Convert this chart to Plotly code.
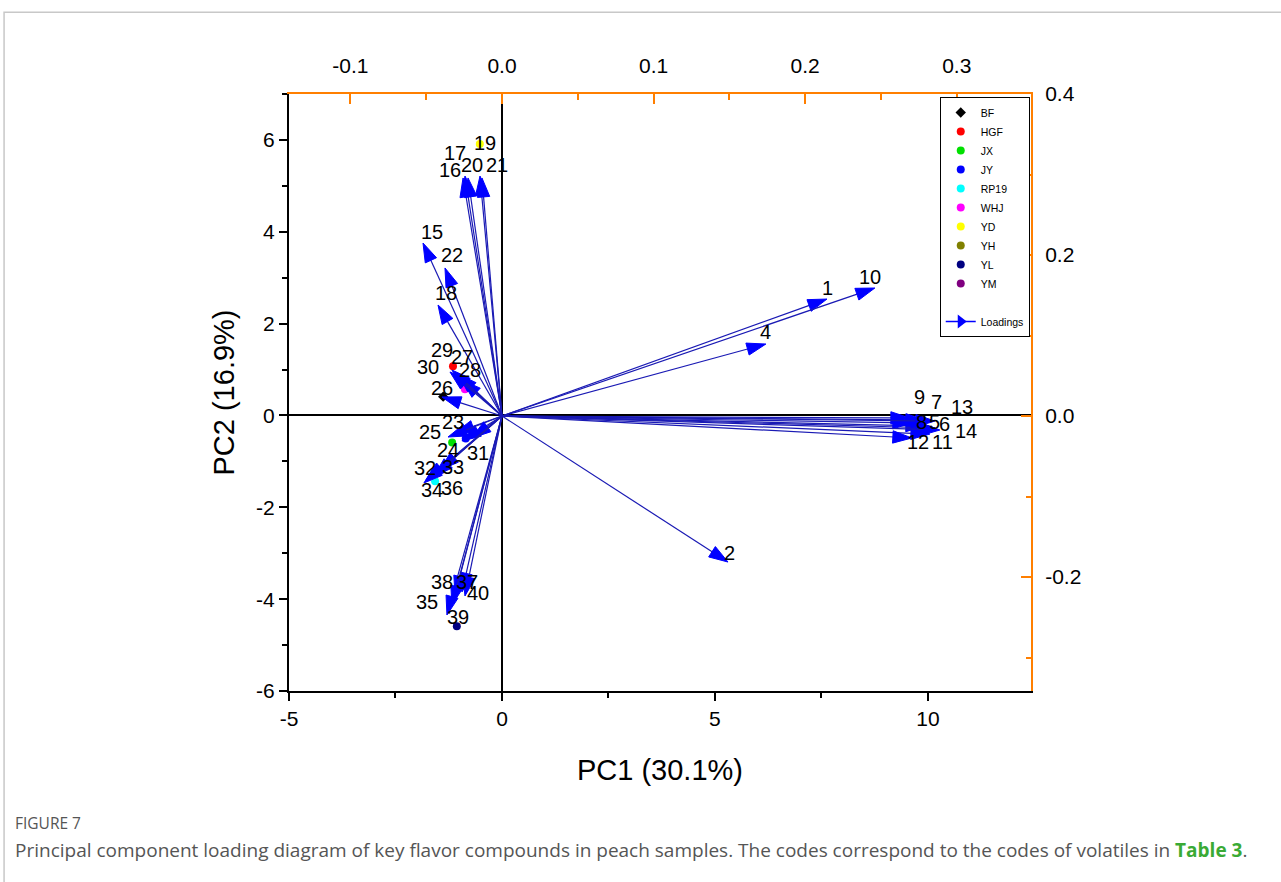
import plotly.graph_objects as go

# ---------------- data ----------------
codes = [str(i) for i in range(1, 41)]
# loading coordinates (top / right axes)
load_pc1 = [0.2144, 0.1491, 0.0, 0.1741, 0.2790, 0.2856, 0.2790, 0.2704, 0.2691, 0.2460,
            0.2823, 0.2704, 0.2856, 0.2889, -0.0521, -0.0257, -0.0244, -0.0422, -0.0145, -0.0224,
            -0.0132, -0.0376, -0.0310, -0.0264, -0.0356, -0.0396, -0.0290, -0.0264, -0.0330, -0.0343,
            -0.0198, -0.0501, -0.0409, -0.0515, -0.0363, -0.0449, -0.0264, -0.0310, -0.0330, -0.0244]
load_pc2 = [0.1453, -0.1814, 0.0, 0.0894, -0.0124, -0.0149, -0.0050, -0.0087, -0.0025, 0.1590,
            -0.0224, -0.0273, -0.0062, -0.0174, 0.2149, 0.2957, 0.2981, 0.1379, 0.2981, 0.2957,
            0.2957, 0.1839, -0.0211, -0.0310, -0.0261, 0.0236, 0.0522, 0.0447, 0.0571, 0.0547,
            -0.0273, -0.0795, -0.0671, -0.0832, -0.2472, -0.0745, -0.2186, -0.2224, -0.2348, -0.2236]
# code 3 is not visible in the chart
shown_codes = [c for c in codes if c != "3"]

samples = ["BF", "HGF", "JX", "JY", "RP19", "WHJ", "YD", "YH", "YL", "YM"]
sample_pc1 = [-1.38, -1.15, -1.17, -0.85, -1.57, -0.87, -0.52, -1.50, -1.06, -0.95]
sample_pc2 = [0.41, 1.07, -0.59, -0.50, -1.43, 0.57, 5.91, -1.25, -4.59, 0.80]

x_ticks = [-5, 0, 5, 10]
x_ticktext = ["-5", "0", "5", "10"]
y_ticks = [-6, -4, -2, 0, 2, 4, 6]
y_ticktext = ["-6", "-4", "-2", "0", "2", "4", "6"]
x2_ticks = [-0.1, 0.0, 0.1, 0.2, 0.3]
x2_ticktext = ["-0.1", "0.0", "0.1", "0.2", "0.3"]
y2_ticks = [-0.2, 0.0, 0.2, 0.4]
y2_ticktext = ["-0.2", "0.0", "0.2", "0.4"]

# ---------------- styles ----------------
sample_colors = ["#000000", "#FF0000", "#00E000", "#0000FF", "#00FFFF",
                 "#FF00FF", "#FFFF00", "#808000", "#000080", "#800080"]
sample_symbols = ["diamond"] + ["circle"] * 9
# label offsets (px right, px down) relative to the arrow tip
label_offset = {
    "1": (1, -11), "2": (2, -9), "4": (0, -12), "5": (10, -4), "6": (10, -4),
    "7": (12, -18), "8": (10, -1), "9": (10, -21), "10": (-5, -11), "11": (13, 8),
    "12": (6, 4), "13": (27, -14), "14": (26, 1), "15": (9, -11), "16": (-13, -8),
    "17": (-10, -23), "18": (8, -12), "19": (5, -33), "20": (4, -13), "21": (15, -13),
    "22": (7, -13), "23": (-2, -11), "24": (-14, 9), "25": (-18, -5), "26": (0, -9),
    "27": (4, -17), "28": (8, -10), "29": (-10, -20), "30": (-22, -5), "31": (6, 15),
    "32": (-1, -12), "33": (13, -3), "34": (8, 7), "35": (-20, -13), "36": (18, 12),
    "37": (5, -10), "38": (-13, -13), "39": (6, 12), "40": (13, -3),
}
ORANGE = "#FF7F00"
BLUE = "#0000FF"
FONT = "Liberation Sans, Arial, sans-serif"

fig = go.Figure()

for name, px_, py_, col, sym in zip(samples, sample_pc1, sample_pc2, sample_colors, sample_symbols):
    fig.add_trace(go.Scatter(x=[px_], y=[py_], mode="markers", name=name,
                             marker=dict(color=col, size=8, symbol=sym),
                             xaxis="x", yaxis="y"))

# spacer + loadings legend entry
fig.add_trace(go.Scatter(x=[None], y=[None], mode="markers", name=" ",
                         marker=dict(color="rgba(0,0,0,0)", size=1), xaxis="x", yaxis="y"))
fig.add_trace(go.Scatter(x=[None], y=[None], mode="lines+markers", name="Loadings",
                         line=dict(color=BLUE, width=1.5),
                         marker=dict(symbol="triangle-right", size=12, color=BLUE),
                         xaxis="x", yaxis="y"))

annotations = []
for c, lx, ly in zip(codes, load_pc1, load_pc2):
    if c not in shown_codes:
        continue
    fig.add_trace(go.Scatter(x=[0, lx], y=[0, ly], mode="lines+markers",
                             line=dict(color="#1A1AB4", width=1.2),
                             marker=dict(symbol="arrow", size=[0, 20], color=BLUE, opacity=1,
                                         angleref="previous", line=dict(width=1, color=BLUE)),
                             xaxis="x2", yaxis="y2", showlegend=False, hoverinfo="skip"))
    dx, dy = label_offset[c]
    annotations.append(dict(x=lx, y=ly, xref="x2", yref="y2", text=c, showarrow=False,
                            xshift=dx, yshift=-dy,
                            font=dict(family=FONT, size=20, color="black")))

# caption
annotations.append(dict(x=-0.372, y=-0.221, xref="paper", yref="paper", xanchor="left",
                        yanchor="middle", showarrow=False, text="FIGURE 7",
                        font=dict(family="Open Sans, sans-serif", size=15.5, color="#555555")))
annotations.append(dict(x=-0.372, y=-0.266, xref="paper", yref="paper", xanchor="left",
                        yanchor="middle", showarrow=False,
                        text=("Principal component loading diagram of key flavor compounds in peach samples. "
                              "The codes correspond to the codes of volatiles in "
                              "<b><span style='color:#3AAA35'>Table 3</span></b>."),
                        font=dict(family="Open Sans, sans-serif", size=19, color="#555555")))

shapes = [
    dict(type="path", xref="paper", yref="paper",
         path="M 1.4,1.137 L -0.384,1.137 L -0.384,-0.4",
         line=dict(color="#C8C8C8", width=1.5)),
]

tick_font = dict(family=FONT, size=21, color="black")

fig.update_layout(
    width=1281, height=882,
    margin=dict(l=289, r=250, t=94, b=191),
    paper_bgcolor="white", plot_bgcolor="white",
    font=dict(family=FONT),
    showlegend=True,
    legend=dict(x=0.877, y=0.995, xanchor="left", yanchor="top",
                bordercolor="black", borderwidth=1, bgcolor="white",
                font=dict(family=FONT, size=10.5, color="black"),
                tracegroupgap=0, itemwidth=30),
    xaxis=dict(range=[-5, 12.42], tickvals=x_ticks, ticktext=x_ticktext,
               ticks="outside", ticklen=8, tickwidth=2, tickcolor="black",
               showline=True, linecolor="black", linewidth=2, showgrid=False,
               zeroline=True, zerolinecolor="black", zerolinewidth=2,
               minor=dict(tickvals=[-2.5, 2.5, 7.5], ticks="outside", ticklen=5, tickcolor="black", tickwidth=2),
               tickfont=tick_font,
               title=dict(text="PC1 (30.1%)", font=dict(family=FONT, size=29, color="black"), standoff=30)),
    yaxis=dict(range=[-6, 7], tickvals=y_ticks, ticktext=y_ticktext,
               ticks="outside", ticklen=8, tickwidth=2, tickcolor="black",
               showline=True, linecolor="black", linewidth=2, showgrid=False,
               zeroline=True, zerolinecolor="black", zerolinewidth=2,
               minor=dict(tickvals=[-5, -3, -1, 1, 3, 5, 7], ticks="outside", ticklen=5, tickcolor="black", tickwidth=2),
               tickfont=tick_font,
               title=dict(text="PC2 (16.9%)", font=dict(family=FONT, size=29, color="black"), standoff=13)),
    xaxis2=dict(overlaying="x", side="top", anchor="y", range=[-0.1405, 0.349],
                tickvals=x2_ticks, ticktext=x2_ticktext,
                ticks="inside", ticklen=10, tickwidth=2, tickcolor=ORANGE,
                showline=True, linecolor=ORANGE, linewidth=2, showgrid=False, zeroline=False,
                minor=dict(tickvals=[-0.05, 0.05, 0.15, 0.25], ticks="inside", ticklen=6, tickcolor=ORANGE, tickwidth=2),
                tickfont=tick_font, ticklabelstandoff=11),
    yaxis2=dict(overlaying="y", side="right", anchor="x", range=[-0.3416, 0.4],
                tickvals=y2_ticks, ticktext=y2_ticktext,
                ticks="inside", ticklen=10, tickwidth=2, tickcolor=ORANGE,
                showline=True, linecolor=ORANGE, linewidth=2, showgrid=False, zeroline=False,
                minor=dict(tickvals=[-0.3, -0.1, 0.1, 0.3], ticks="inside", ticklen=5, tickcolor=ORANGE, tickwidth=2),
                tickfont=tick_font, ticklabelstandoff=8),
    annotations=annotations,
    shapes=shapes,
)

fig.write_html("out.html", config={"displayModeBar": False},
               post_script="document.body.style.margin='0';")
